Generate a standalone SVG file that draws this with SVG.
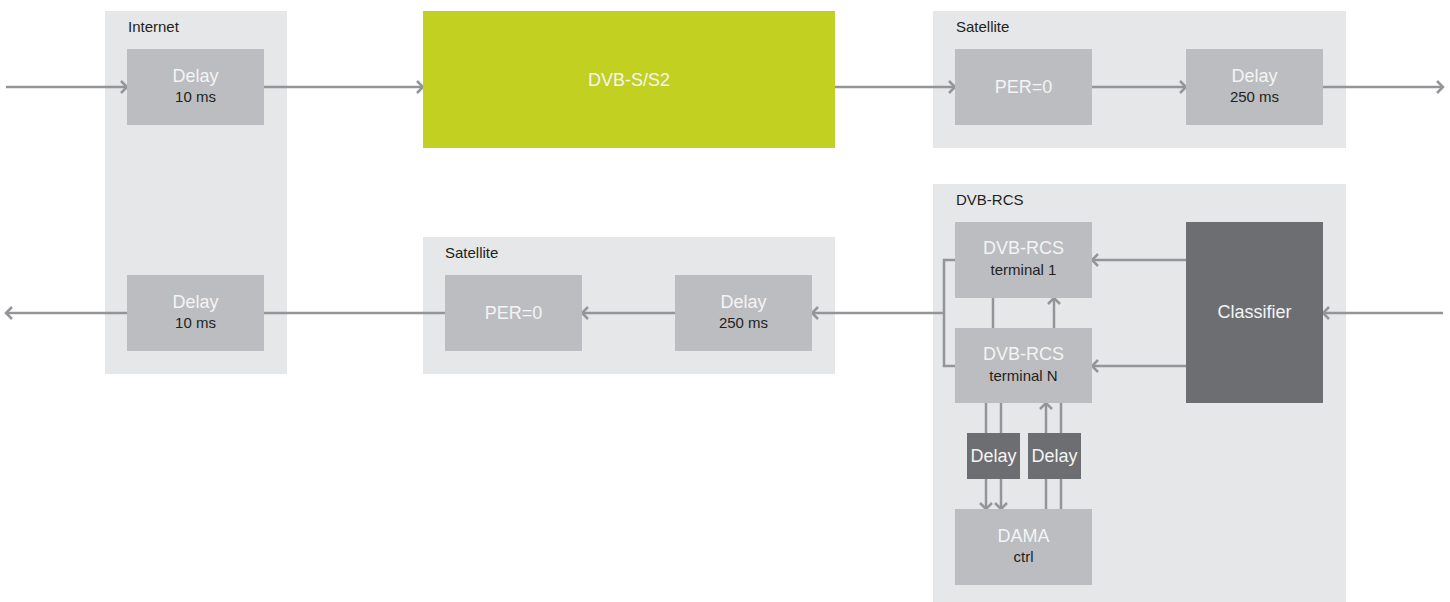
<svg xmlns="http://www.w3.org/2000/svg" width="1450" height="602" viewBox="0 0 1450 602">
<style>
.grp{fill:#E6E7E8}
.node{fill:#BCBDC0}
.dark{fill:#6D6E71}
.green{fill:#C2D021}
.t{font-family:"Liberation Sans",Arial,sans-serif;text-anchor:middle;fill:#F4F4F4;font-size:18px}
.s{font-family:"Liberation Sans",Arial,sans-serif;text-anchor:middle;fill:#231F20;font-size:15px}
.g{font-family:"Liberation Sans",Arial,sans-serif;fill:#231F20;font-size:15px}
.c{fill:none;stroke:#939598;stroke-width:2.5}
</style>
<defs>
<marker id="ah" markerUnits="userSpaceOnUse" markerWidth="12" markerHeight="14" refX="7" refY="6" orient="auto" viewBox="-1 -1 10 14">
<path d="M1,0 L7,6 L1,12" fill="none" stroke="#939598" stroke-width="2.5"/>
</marker>
</defs>
<g id="group-internet"><rect class="grp" x="105" y="11" width="182" height="363"/><text class="g" x="128" y="32">Internet</text></g>
<g id="group-satellite-top"><rect class="grp" x="933" y="11" width="413" height="137"/><text class="g" x="956" y="32">Satellite</text></g>
<g id="group-satellite-bottom"><rect class="grp" x="423" y="237" width="412" height="137"/><text class="g" x="445" y="258">Satellite</text></g>
<g id="group-dvbrcs"><rect class="grp" x="933" y="184" width="413" height="418"/><text class="g" x="956" y="205">DVB-RCS</text></g>
<g id="connectors">
<line class="c" x1="6" y1="87" x2="127" y2="87" marker-end="url(#ah)"/>
<line class="c" x1="264" y1="87" x2="423" y2="87" marker-end="url(#ah)"/>
<line class="c" x1="835" y1="87" x2="955" y2="87" marker-end="url(#ah)"/>
<line class="c" x1="1092" y1="87" x2="1186" y2="87" marker-end="url(#ah)"/>
<line class="c" x1="1323" y1="87" x2="1443" y2="87" marker-end="url(#ah)"/>
<line class="c" x1="1443" y1="313" x2="1323" y2="313" marker-end="url(#ah)"/>
<line class="c" x1="1186" y1="260" x2="1092" y2="260" marker-end="url(#ah)"/>
<line class="c" x1="1186" y1="366" x2="1092" y2="366" marker-end="url(#ah)"/>
<polyline class="c" points="955,260 944,260 944,366 955,366"/>
<line class="c" x1="944" y1="313" x2="812" y2="313" marker-end="url(#ah)"/>
<line class="c" x1="675" y1="313" x2="582" y2="313" marker-end="url(#ah)"/>
<line class="c" x1="264" y1="313" x2="445" y2="313"/>
<line class="c" x1="127" y1="313" x2="6" y2="313" marker-end="url(#ah)"/>
<line class="c" x1="993" y1="298" x2="993" y2="328"/>
<line class="c" x1="1054" y1="328" x2="1054" y2="298" marker-end="url(#ah)"/>
<line class="c" x1="986" y1="403" x2="986" y2="509" marker-end="url(#ah)"/>
<line class="c" x1="1001" y1="403" x2="1001" y2="509" marker-end="url(#ah)"/>
<line class="c" x1="1046" y1="509" x2="1046" y2="403" marker-end="url(#ah)"/>
<line class="c" x1="1061" y1="509" x2="1061" y2="403"/>
</g>
<g id="node-delay-in"><rect class="node" x="127" y="49" width="137" height="76"/><text class="t" x="195.5" y="82">Delay</text><text class="s" x="195.5" y="102">10 ms</text></g>
<g id="node-dvbs"><rect class="green" x="423" y="11" width="412" height="137"/><text class="t" x="629" y="86">DVB-S/S2</text></g>
<g id="node-per-top"><rect class="node" x="955" y="49" width="137" height="76"/><text class="t" x="1023.5" y="93">PER=0</text></g>
<g id="node-delay-top"><rect class="node" x="1186" y="49" width="137" height="76"/><text class="t" x="1254.5" y="82">Delay</text><text class="s" x="1254.5" y="102">250 ms</text></g>
<g id="node-delay-out"><rect class="node" x="127" y="275" width="137" height="76"/><text class="t" x="195.5" y="308">Delay</text><text class="s" x="195.5" y="328">10 ms</text></g>
<g id="node-per-bottom"><rect class="node" x="445" y="275" width="137" height="76"/><text class="t" x="513.5" y="319">PER=0</text></g>
<g id="node-delay-bottom"><rect class="node" x="675" y="275" width="137" height="76"/><text class="t" x="743.5" y="308">Delay</text><text class="s" x="743.5" y="328">250 ms</text></g>
<g id="node-terminal1"><rect class="node" x="955" y="222" width="137" height="76"/><text class="t" x="1023.5" y="254">DVB-RCS</text><text class="s" x="1023.5" y="275">terminal 1</text></g>
<g id="node-terminalN"><rect class="node" x="955" y="328" width="137" height="75"/><text class="t" x="1023.5" y="360">DVB-RCS</text><text class="s" x="1023.5" y="381">terminal N</text></g>
<g id="node-classifier"><rect class="dark" x="1186" y="222" width="137" height="181"/><text class="t" x="1254.5" y="318">Classifier</text></g>
<g id="node-delay-a"><rect class="dark" x="967" y="433" width="53" height="46"/><text class="t" x="993.5" y="462">Delay</text></g>
<g id="node-delay-b"><rect class="dark" x="1028" y="433" width="53" height="46"/><text class="t" x="1054.5" y="462">Delay</text></g>
<g id="node-dama"><rect class="node" x="955" y="509" width="137" height="76"/><text class="t" x="1023.5" y="542">DAMA</text><text class="s" x="1023.5" y="562">ctrl</text></g>
</svg>
